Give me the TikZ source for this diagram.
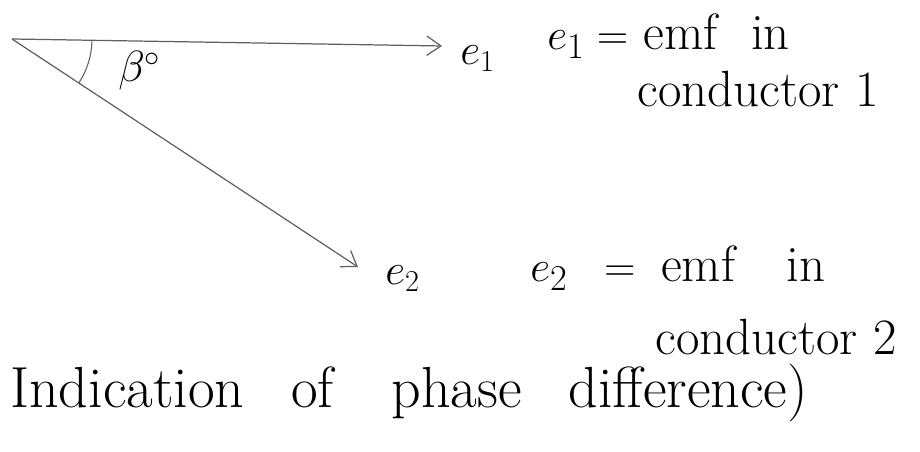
\documentclass[tikz,border=0pt]{standalone}
\usepackage{amsmath,amssymb}
\usetikzlibrary{arrows.meta,positioning}

\begin{document}
\begin{tikzpicture}[
        x=0.02cm,
        y=0.02cm,
        phasor/.style={draw=gray!75!black, line width=0.7pt, -{Straight Barb[length=8pt,width=11pt]}},
        angarc/.style={draw=gray!75!black, line width=0.6pt},
        lbl/.style={inner sep=0pt, anchor=base west, font=\fontsize{27}{32}\selectfont},
        note/.style={inner sep=0pt, anchor=base west, font=\fontsize{29}{34}\selectfont},
        capt/.style={inner sep=0pt, anchor=base west, font=\fontsize{33}{40}\selectfont}
    ]
        \useasboundingbox (0,0) rectangle (920,452);
        \coordinate (O) at (12,413);
        \coordinate (E1) at (442,406);
        \coordinate (E2) at (358,185);
        \draw[phasor] (O) -- (E1);
        \draw[phasor] (O) -- (E2);
        \draw[angarc] ([shift={(-0.9:80)}]O) arc[start angle=-0.9, end angle=-33.4, radius=80];
        \node[lbl] (beta) at (118,370) {$\beta^\circ$};
        \node[lbl] (e1lab) at (460,387) {$e_1$};
        \node[lbl] (e2lab) at (385,167) {$e_2$};
        \node[note] (e1note) at (547,402) {$e_1 =$ emf\hspace{0.35em} in};
        \node[note] (e1cond) at (637,345) {conductor 1};
        \node[note] (e2note) at (530,170) {$e_2 \;\;=$\hspace{0.2em} emf\hspace{0.7em} in};
        \node[note] (e2cond) at (655,97) {conductor 2};
        \node[capt] (caption) at (10,44) {Indication\hspace{0.5em} of\hspace{0.7em} phase\hspace{0.5em} difference)};
    \end{tikzpicture}
\end{document}
